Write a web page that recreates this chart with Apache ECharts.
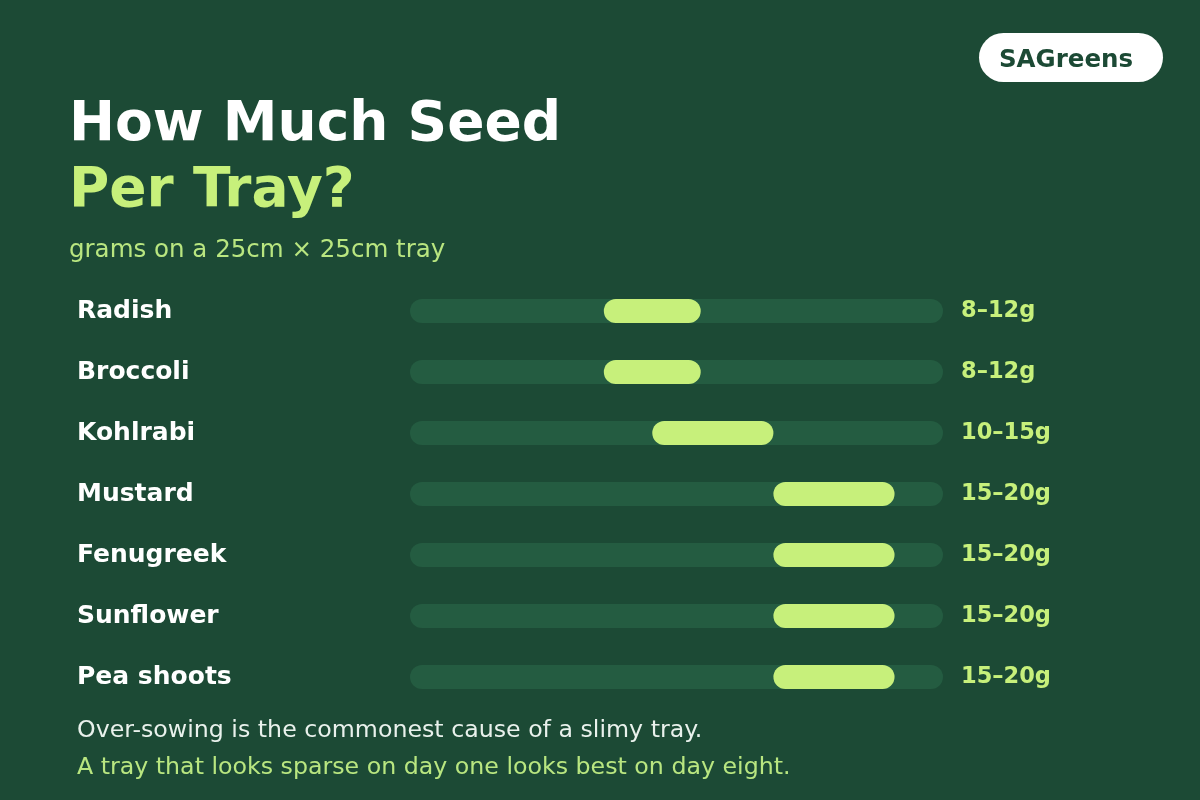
<!DOCTYPE html>
<html>
<head>
<meta charset="utf-8">
<script src="https://cdn.jsdelivr.net/npm/echarts@6/dist/echarts.min.js"></script>
<style>
html,body{margin:0;padding:0;background:#1c4a35;}
#c{width:1200px;height:800px;}
</style>
</head>
<body>
<div id="c"></div>
<script>
const categories = ['Radish','Broccoli','Kohlrabi','Mustard','Fenugreek','Sunflower','Pea shoots'];
const lowValues = [8, 8, 10, 15, 15, 15, 15];
const highValues = [12, 12, 15, 20, 20, 20, 20];
const trackMax = 22;
const valueLabels = ['8–12g','8–12g','10–15g','15–20g','15–20g','15–20g','15–20g'];

const FONT = 'DejaVu Sans';
const BG = '#1c4a35';
const TRACK = '#245c41';
const LIME = '#c7f07b';

const chart = echarts.init(document.getElementById('c'));
chart.setOption({
  backgroundColor: BG,
  animation: false,
  grid: {left: 410, right: 257, top: 280.5, bottom: 92.5},
  xAxis: {type: 'value', min: 0, max: trackMax, show: false},
  yAxis: {
    type: 'category', data: categories, inverse: true,
    axisLine: {show: false}, axisTick: {show: false}, splitLine: {show: false},
    axisLabel: {align: 'left', margin: 333, color: '#ffffff', fontFamily: FONT, fontWeight: 'bold', fontSize: 25, padding: [4, 0, 0, 0]}
  },
  series: [
    {
      type: 'bar', name: 'track', data: categories.map(() => trackMax),
      barWidth: 24, barGap: '-100%', silent: true,
      itemStyle: {color: TRACK, borderRadius: 12},
      label: {show: true, position: 'right', distance: 18,
        formatter: p => valueLabels[p.dataIndex],
        color: LIME, fontFamily: FONT, fontWeight: 'bold', fontSize: 22.5, padding: [2, 0, 0, 0]}
    },
    {
      type: 'bar', name: 'base', stack: 'r', data: lowValues,
      barWidth: 24, barGap: '-100%', silent: true,
      itemStyle: {color: 'rgba(0,0,0,0)'}
    },
    {
      type: 'bar', name: 'range', stack: 'r', data: highValues.map((h, i) => h - lowValues[i]),
      barWidth: 24, barGap: '-100%',
      itemStyle: {color: LIME, borderRadius: 12}
    }
  ],
  graphic: [
    {type: 'rect', shape: {x: 979, y: 33, width: 184, height: 49, r: 24.5}, style: {fill: '#ffffff'}},
    {type: 'text', x: 1066, y: 60.5, style: {text: 'SAGreens', fill: BG, font: 'bold 24.5px "DejaVu Sans"', align: 'center', verticalAlign: 'middle'}},
    {type: 'text', x: 69, y: 126, style: {text: 'How Much Seed', fill: '#ffffff', font: 'bold 55px "DejaVu Sans"', align: 'left', verticalAlign: 'middle'}},
    {type: 'text', x: 69, y: 192, style: {text: 'Per Tray?', fill: LIME, font: 'bold 55px "DejaVu Sans"', align: 'left', verticalAlign: 'middle'}},
    {type: 'text', x: 69, y: 250.6, style: {text: 'grams on a 25cm × 25cm tray', fill: '#b9e680', font: '24.5px "DejaVu Sans"', align: 'left', verticalAlign: 'middle'}},
    {type: 'text', x: 77, y: 731, style: {text: 'Over-sowing is the commonest cause of a slimy tray.', fill: '#e9f1ec', font: '23.7px "DejaVu Sans"', align: 'left', verticalAlign: 'middle'}},
    {type: 'text', x: 77, y: 768, style: {text: 'A tray that looks sparse on day one looks best on day eight.', fill: '#b9e680', font: '23.7px "DejaVu Sans"', align: 'left', verticalAlign: 'middle'}}
  ]
});
</script>
</body>
</html>
